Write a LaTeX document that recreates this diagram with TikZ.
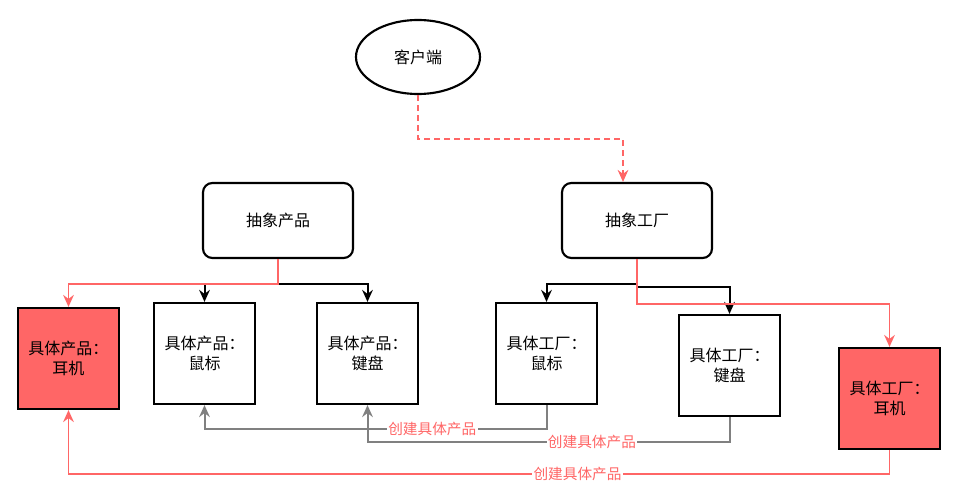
\documentclass[tikz,border=0pt]{standalone}
\usepackage{fontspec}
\setmainfont{Noto Sans CJK SC}
\usetikzlibrary{arrows.meta,shapes.geometric}
\definecolor{hotred}{HTML}{FF6666}
\definecolor{midgray}{HTML}{808080}

\begin{document}
\begin{tikzpicture}[x=0.75pt, y=-0.75pt, >={Stealth[length=9pt,width=8pt,inset=3pt]},
    box/.style={draw, line width=1.6pt, minimum width=75.75pt, minimum height=75.75pt,
      inner sep=1pt, align=center, font=\fontsize{12}{15}\selectfont},
    absbox/.style={draw, line width=1.6pt, rounded corners=7pt, minimum width=112.5pt,
      minimum height=56.25pt, font=\fontsize{12}{15}\selectfont},
    blk/.style={->, line width=1.5pt},
    redl/.style={->, line width=1.4pt, hotred},
    grayl/.style={->, line width=1.5pt, midgray},
    lbl/.style={fill=white, text=hotred, inner sep=1pt, font=\fontsize{11}{13}\selectfont}]
  \useasboundingbox (0,0) rectangle (954,502);
  % 上段
  \node[ellipse, draw, line width=1.6pt, minimum width=93pt, minimum height=55.5pt,
    inner sep=0pt, font=\fontsize{12}{15}\selectfont] (client) at (418,57) {客户端};
  \node[absbox] (absprod) at (278,220.5) {抽象产品};
  \node[absbox] (absfact) at (637,220.5) {抽象工厂};
  % 具体产品
  \node[box, fill=hotred] (prodear) at (68.5,358.5) {具体产品：\\ 耳机};
  \node[box] (prodmouse) at (204.5,353.5) {具体产品：\\ 鼠标};
  \node[box] (prodkey) at (367.5,353.5) {具体产品：\\ 键盘};
  % 具体工厂
  \node[box] (factmouse) at (546.5,353.5) {具体工厂：\\ 鼠标};
  \node[box] (factkey) at (729.5,365.5) {具体工厂：\\ 键盘};
  \node[box, fill=hotred] (factear) at (889.5,398.5) {具体工厂：\\ 耳机};
  % 客户端から抽象工厂へ
  \draw[->, line width=1.4pt, hotred, dash pattern=on 4.5pt off 3pt] (client.south) -- ++(0,44) -| ([xshift=-10.5pt]absfact.north);
  % 抽象から具体へ
  \draw[blk] (absprod.south) -- ++(0,25) -| (prodmouse.north);
  \draw[blk] (absprod.south) -- ++(0,25) -| (prodkey.north);
  \draw[redl] (absprod.south) -- ++(0,25) -| (prodear.north);
  \draw[blk] (absfact.south) -- ++(0,25) -| (factmouse.north);
  \draw[blk] (absfact.south) -- ++(0,28) -| (factkey.north);
  \draw[redl] (absfact.south) -- ++(0,45) -| (factear.north);
  % 生成の矢印
  \draw[grayl] (factmouse.south) -- ++(0,24) -| node[lbl, pos=0.167] {创建具体产品} (prodmouse.south);
  \draw[grayl] (factkey.south) -- ++(0,25) -| node[lbl, pos=0.19] {创建具体产品} (prodkey.south);
  \draw[redl] (factear.south) -- ++(0,24) -| node[lbl, pos=0.19] {创建具体产品} (prodear.south);
\end{tikzpicture}
\end{document}
